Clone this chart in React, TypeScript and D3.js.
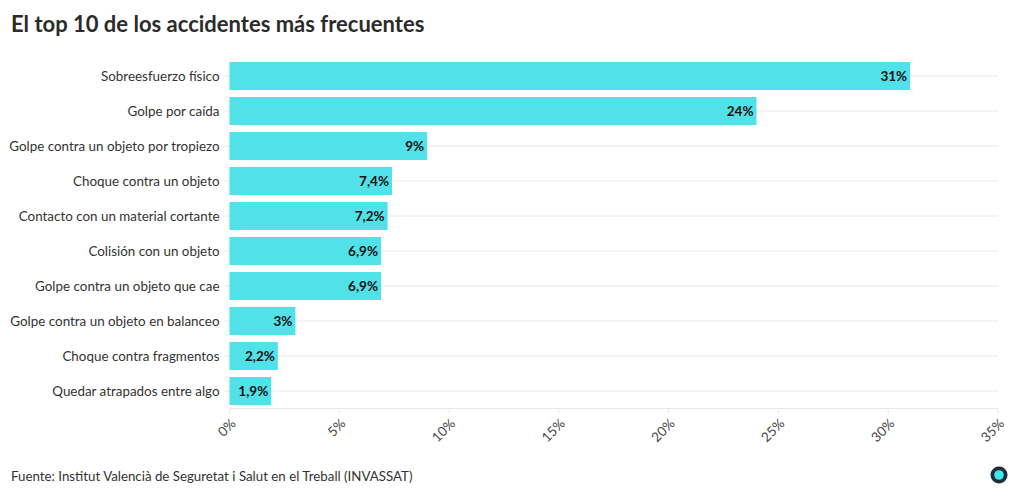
import { useMemo } from 'react';
import * as d3 from 'd3';

const categories = [
  'Sobreesfuerzo físico',
  'Golpe por caída',
  'Golpe contra un objeto por tropiezo',
  'Choque contra un objeto',
  'Contacto con un material cortante',
  'Colisión con un objeto',
  'Golpe contra un objeto que cae',
  'Golpe contra un objeto en balanceo',
  'Choque contra fragmentos',
  'Quedar atrapados entre algo',
];
const values = [31, 24, 9, 7.4, 7.2, 6.9, 6.9, 3, 2.2, 1.9];
const xTicks = [0, 5, 10, 15, 20, 25, 30, 35];

const TITLE = 'El top 10 de los accidentes más frecuentes';
const SOURCE = 'Fuente: Institut Valencià de Seguretat i Salut en el Treball (INVASSAT)';

const WIDTH = 1020;
const HEIGHT = 500;
const MARGIN = { top: 58.5, right: 22, bottom: 91.5, left: 229.5 };
const FONT = 'Lato, "Noto Sans", sans-serif';
const BAR_COLOR = '#50e1e9';
const TEXT = '#333333';
const GRID = '#e8e8e8';

const fmt = (v: number) => `${String(v).replace('.', ',')}%`;

export default function App() {
  const rows = useMemo(
    () => categories.map((c, i) => ({ label: c, value: values[i] })),
    [],
  );

  const x = d3
    .scaleLinear()
    .domain([0, 35])
    .range([MARGIN.left, WIDTH - MARGIN.right]);
  const y = d3
    .scaleBand<string>()
    .domain(categories)
    .range([MARGIN.top, HEIGHT - MARGIN.bottom])
    .paddingInner(0.2)
    .paddingOuter(0.1);

  const bottom = HEIGHT - MARGIN.bottom;
  const bw = y.bandwidth();

  return (
    <svg
      width={WIDTH}
      height={HEIGHT}
      style={{ position: 'absolute', left: 0, top: 0, background: '#fff' }}
      fontFamily={FONT}
    >
      <text x={11} y={32} fontSize={22} fontWeight={700} fill="#2b2b2b">
        {TITLE}
      </text>

      {/* gridlines at each row + small y ticks */}
      {rows.map((d) => {
        const cy = (y(d.label) ?? 0) + bw / 2;
        return (
          <g key={`g-${d.label}`}>
            <line x1={x(0)} x2={x(35)} y1={cy} y2={cy} stroke={GRID} strokeWidth={1} />
            <line x1={x(0) - 5} x2={x(0)} y1={cy} y2={cy} stroke={GRID} strokeWidth={1} />
            <text
              x={x(0) - 10}
              y={cy}
              dy="0.35em"
              textAnchor="end"
              fontSize={13.4}
              fill={TEXT}
            >
              {d.label}
            </text>
          </g>
        );
      })}

      {/* bars */}
      {rows.map((d) => (
        <rect
          key={`b-${d.label}`}
          x={x(0)}
          y={y(d.label)}
          width={x(d.value) - x(0)}
          height={bw}
          fill={BAR_COLOR}
        />
      ))}

      {/* value labels */}
      {rows.map((d) => (
        <text
          key={`v-${d.label}`}
          x={x(d.value) - 3}
          y={(y(d.label) ?? 0) + bw / 2}
          dy="0.35em"
          textAnchor="end"
          fontSize={13.5}
          fontWeight={700}
          fill="#111"
        >
          {fmt(d.value)}
        </text>
      ))}

      {/* x axis */}
      <line x1={x(0)} x2={x(35)} y1={bottom} y2={bottom} stroke={GRID} />
      {xTicks.map((t) => (
        <g key={`t-${t}`}>
          <line x1={x(t)} x2={x(t)} y1={bottom} y2={bottom + 5} stroke={GRID} />
          <text
            transform={`translate(${x(t) + 7},${bottom + 16}) rotate(-45)`}
            textAnchor="end"
            fontSize={13.4}
            fill="#444"
          >
            {`${t}%`}
          </text>
        </g>
      ))}

      <text x={11} y={481} fontSize={13.3} fill={TEXT}>
        {SOURCE}
      </text>

      {/* logo */}
      <circle cx={999} cy={475} r={9.5} fill="#f0fafb" />
      <circle cx={999} cy={475} r={8.5} fill="#1f2d38" />
      <circle cx={999} cy={475} r={4.8} fill="#3fe6f0" />
    </svg>
  );
}
